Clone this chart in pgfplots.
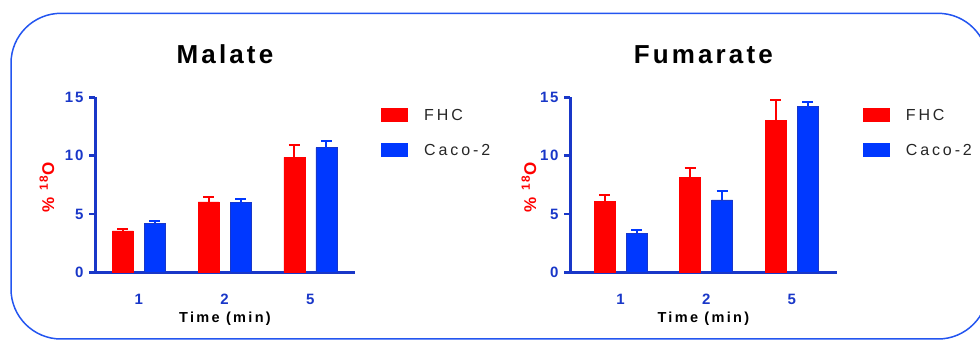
\documentclass[border=0pt]{standalone}
\usepackage{fontspec}
\setmainfont{Liberation Sans}
\newfontfamily\spaced[LetterSpace=18]{Liberation Sans}
\newfontfamily\spacedb[LetterSpace=12]{Liberation Sans Bold}
\newfontfamily\xlabf[LetterSpace=16]{Liberation Sans Bold}
\newfontfamily\titlef[LetterSpace=12]{Liberation Sans Bold}
\usepackage{pgfplots}
\pgfplotsset{compat=1.18}
\definecolor{fhcred}{RGB}{255,0,0}
\definecolor{cacoblue}{RGB}{0,56,255}
\definecolor{axblue}{RGB}{25,55,200}
\definecolor{frameblue}{RGB}{35,85,240}
\pgfplotsset{panel/.style={
  scale only axis, height=175bp,
  ybar=11bp, bar width=21bp,
  ymin=0, ymax=15, ytick={0,5,10,15},
  xtick={0,1,2}, xticklabels={1,2,5},
  axis x line*=bottom, axis y line*=left,
  axis line style={axblue, line width=3bp, -},
  xtick style={draw=none},
  ytick style={axblue, line width=2.5bp},
  major tick length=6bp, tick align=outside,
  /pgf/number format/assume math mode=true,
  ticklabel style={font=\spacedb\fontsize{15bp}{15bp}\selectfont, text=axblue},
  yticklabel style={xshift=-2bp},
  xticklabel style={yshift=-12bp},
  title style={font=\titlef\fontsize{26bp}{26bp}\selectfont, anchor=center, yshift=37bp, at={(axis description cs:0.5,1)}},
  ylabel style={font=\spacedb\fontsize{17bp}{17bp}\selectfont, text=fhcred, anchor=center},
  xlabel style={font=\xlabf\fontsize{14.5bp}{14.5bp}\selectfont, text=black, anchor=center, at={(axis description cs:0.5,0)}, yshift=-46bp},
  xlabel={Time (min)},
  ylabel={\%\ \textsuperscript{18}O},
  legend image code/.code={\fill[#1,draw=none] (0bp,-7bp) rectangle (27bp,7bp);},
  legend style={at={(axis description cs:1,1)}, anchor=north west, xshift=26bp, yshift=-10.7bp,
    draw=none, fill=none, inner sep=0pt, row sep=21bp, column sep=16bp,
    font=\spaced\fontsize{16bp}{16bp}\selectfont, text=black!85,
    nodes={inner sep=0pt}},
  legend cell align=left,
  clip=false,
}}
\begin{document}
\begin{tikzpicture}
\useasboundingbox (0,0) rectangle (980bp,341bp);
\draw[frameblue, line width=1.5bp, rounded corners=50bp] (11bp,2bp) rectangle (988bp,327.7bp);
\begin{axis}[panel, width=260bp, xmin=-0.51, xmax=2.52,
  at={(95bp,68.7bp)}, anchor=south west, title={Malate},
  ylabel style={at={(axis description cs:-0.185,0.487)}}]
\addplot[fill=fhcred, draw=fhcred, line width=0.6bp,
  error bars/.cd, y dir=plus, y explicit,
  error bar style={line width=2bp, fhcred, solid},
  error mark options={rotate=90, line width=2bp, mark size=5.5bp, fhcred}]
  coordinates {(0,3.54) +- (0,0.20) (1,6.03) +- (0,0.42) (2,9.86) +- (0,1.06)};
\addplot[fill=cacoblue, draw=axblue, line width=0.6bp,
  error bars/.cd, y dir=plus, y explicit,
  error bar style={line width=2bp, cacoblue, solid},
  error mark options={rotate=90, line width=2bp, mark size=5.5bp, cacoblue}]
  coordinates {(0,4.20) +- (0,0.20) (1,5.97) +- (0,0.28) (2,10.69) +- (0,0.60)};
\legend{FHC, Caco-2}
\end{axis}
\begin{axis}[panel, width=266.7bp, xmin=-0.59, xmax=2.524,
  at={(570bp,68.7bp)}, anchor=south west, title={Fumarate},
  ylabel style={at={(axis description cs:-0.154,0.487)}}]
\addplot[fill=fhcred, draw=fhcred, line width=0.6bp,
  error bars/.cd, y dir=plus, y explicit,
  error bar style={line width=2bp, fhcred, solid},
  error mark options={rotate=90, line width=2bp, mark size=5.5bp, fhcred}]
  coordinates {(0,6.11) +- (0,0.52) (1,8.14) +- (0,0.78) (2,13.00) +- (0,1.78)};
\addplot[fill=cacoblue, draw=axblue, line width=0.6bp,
  error bars/.cd, y dir=plus, y explicit,
  error bar style={line width=2bp, cacoblue, solid},
  error mark options={rotate=90, line width=2bp, mark size=5.5bp, cacoblue}]
  coordinates {(0,3.34) +- (0,0.26) (1,6.20) +- (0,0.75) (2,14.20) +- (0,0.42)};
\legend{FHC, Caco-2}
\end{axis}
\end{tikzpicture}
\end{document}
